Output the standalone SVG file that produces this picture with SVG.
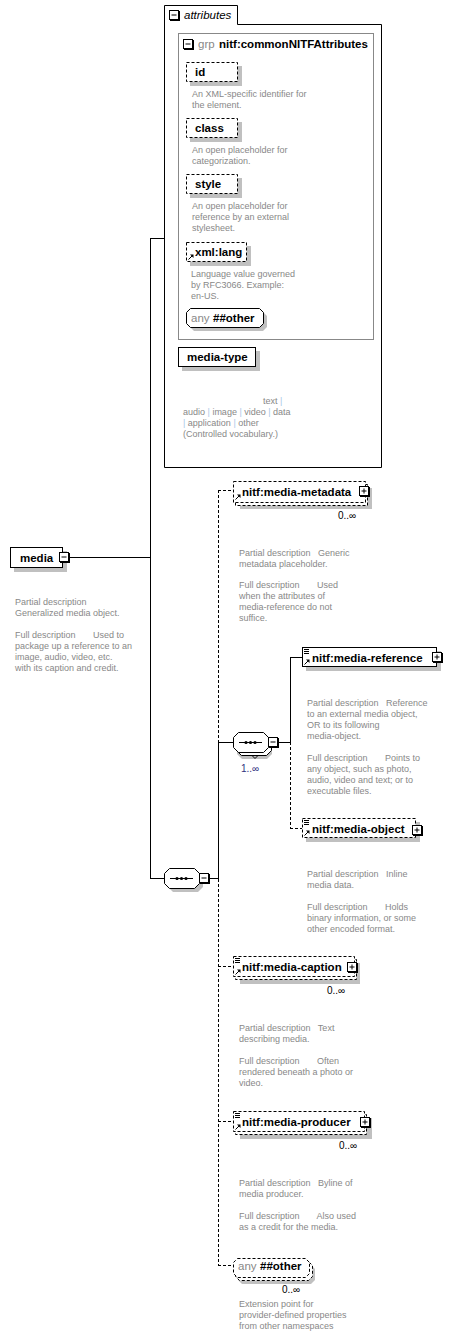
<svg xmlns="http://www.w3.org/2000/svg" width="451" height="1337" viewBox="0 0 451 1337">
<style>
text{font-family:"Liberation Sans",Arial,sans-serif}
.lbl{font-size:11.5px;font-weight:bold;fill:#000}
.desc{font-size:9px;fill:#888}
.occ{font-size:10px;fill:#000}
.box{fill:#fff;stroke:#000;stroke-width:1}
.dbox{fill:#fff;stroke:#000;stroke-width:1;stroke-dasharray:3,2}
.sh{fill:#c0c0c0;stroke:none}
.ln{fill:none;stroke:#000;stroke-width:1}
.dln{fill:none;stroke:#000;stroke-width:1;stroke-dasharray:3,2}
.ic{fill:#fff;stroke:#000;stroke-width:1}
</style>
<defs>
<g id="minus"><rect x="1" y="1" width="10" height="10" fill="#000"/><rect class="ic" x="0.5" y="0.5" width="9" height="9"/><path class="ln" d="M2.5,5 H7.5"/></g>
<g id="plus"><rect x="1" y="1" width="10" height="10" fill="#000"/><rect class="ic" x="0.5" y="0.5" width="9" height="9"/><path class="ln" d="M2.5,5 H7.5 M5,2.5 V7.5"/></g>
<g id="arr"><path class="ln" d="M0.5,5.5 L4.5,1.5"/><path d="M2,0.5 H5.5 V4 Z" fill="#000"/></g>
<g id="lines"><path class="ln" d="M0,0.5 H5 M0,2.5 H5 M0,4.5 H5"/></g>
</defs>

<g id="connectors">
<path class="ln" d="M69,557.5 H150.5 M150.5,238 V878 M150,238.5 H165 M150,878.5 H164"/>
<path class="ln" d="M209,878.5 H218.5 M218.5,742 V879 M218,742.5 H233"/>
<path class="dln" d="M218.5,490 V742 M218.5,879 V1265.5 M218,490.5 H233 M218,966.5 H233 M218,1121.5 H233 M218,1265.5 H233"/>
<path class="ln" d="M278,742.5 H290.5 M290.5,657 V742 M290,657.5 H302"/>
<path class="dln" d="M290.5,742 V828.5 M290,828.5 H302"/>
</g>

<g id="attributes">
<path class="box" d="M164.5,5.5 H237.5 V24.5 H381.5 V467.5 H164.5 Z"/>
<use href="#minus" x="169" y="10"/>
<text x="184" y="19" style="font-size:11.5px;font-style:italic">attributes</text>
</g>

<g id="grp">
<rect x="178.5" y="33.5" width="195" height="306" fill="none" stroke="#888"/>
<use href="#minus" x="183" y="39"/>
<text x="198" y="48" style="font-size:11.5px;fill:#888">grp</text>
<text class="lbl" x="219" y="48">nitf:commonNITFAttributes</text>
</g>

<g id="attr-id">
<rect class="sh" x="190" y="66" width="52" height="20"/>
<rect class="dbox" x="186.5" y="62.5" width="51" height="19"/>
<text class="lbl" x="195" y="76">id</text>
<text class="desc" x="192" y="97">An XML-specific identifier for</text>
<text class="desc" x="192" y="108">the element.</text>
</g>

<g id="attr-class">
<rect class="sh" x="190" y="122" width="52" height="20"/>
<rect class="dbox" x="186.5" y="118.5" width="51" height="19"/>
<text class="lbl" x="195" y="132">class</text>
<text class="desc" x="192" y="153">An open placeholder for</text>
<text class="desc" x="192" y="164">categorization.</text>
</g>

<g id="attr-style">
<rect class="sh" x="190" y="178" width="52" height="20"/>
<rect class="dbox" x="186.5" y="174.5" width="51" height="19"/>
<text class="lbl" x="195" y="188">style</text>
<text class="desc" x="192" y="209">An open placeholder for</text>
<text class="desc" x="192" y="220">reference by an external</text>
<text class="desc" x="192" y="231">stylesheet.</text>
</g>

<g id="attr-xmllang">
<rect class="sh" x="190" y="246" width="61" height="20"/>
<rect class="dbox" x="186.5" y="242.5" width="60" height="19"/>
<use href="#arr" x="188" y="254"/>
<text class="lbl" x="195" y="256">xml:lang</text>
<text class="desc" x="191" y="277">Language value governed</text>
<text class="desc" x="191" y="288">by RFC3066. Example:</text>
<text class="desc" x="191" y="299">en-US.</text>
</g>

<g id="attr-any">
<path class="sh" d="M194,312 H263 L267,316 V327 L263,331 H194 L190,327 V316 Z"/>
<path class="box" d="M190.5,308.5 H259.5 L263.5,312.5 V323.5 L259.5,327.5 H190.5 L186.5,323.5 V312.5 Z"/>
<text x="191" y="322" style="font-size:11.5px;fill:#888">any</text>
<text class="lbl" x="213" y="322">##other</text>
</g>

<g id="attr-media-type">
<rect class="sh" x="182" y="351" width="78" height="20"/>
<rect class="box" x="178.5" y="347.5" width="77" height="19"/>
<text class="lbl" x="187" y="361">media-type</text>
<text class="desc" x="263" y="404">text <tspan fill="#a8c8e8">|</tspan></text>
<text class="desc" x="183" y="415">audio <tspan fill="#a8c8e8">|</tspan> image <tspan fill="#a8c8e8">|</tspan> video <tspan fill="#a8c8e8">|</tspan> data</text>
<text class="desc" x="183" y="426"><tspan fill="#a8c8e8">|</tspan> application <tspan fill="#a8c8e8">|</tspan> other</text>
<text class="desc" x="183" y="437">(Controlled vocabulary.)</text>
</g>

<g id="media">
<rect class="sh" x="14" y="551" width="53" height="21"/>
<rect class="box" x="10.5" y="547.5" width="52" height="20"/>
<text class="lbl" x="20" y="562">media</text>
<use href="#minus" x="59" y="552"/>
<text class="desc" x="15" y="605">Partial description</text>
<text class="desc" x="15" y="616">Generalized media object.</text>
<text class="desc" x="15" y="638" xml:space="preserve">Full description       Used to</text>
<text class="desc" x="15" y="649">package up a reference to an</text>
<text class="desc" x="15" y="660">image, audio, video, etc.</text>
<text class="desc" x="15" y="671">with its caption and credit.</text>
</g>

<g id="seq-main">
<path class="sh" d="M173,872 H198 L203,877 V887 L198,892 H173 L168,887 V877 Z"/>
<path class="box" d="M169.5,868.5 H194.5 L199.5,873.5 V883.5 L194.5,888.5 H169.5 L164.5,883.5 V873.5 Z"/>
<path class="ln" d="M170,878.5 H193"/>
<circle cx="177" cy="878.5" r="1.6"/><circle cx="181.5" cy="878.5" r="1.6"/><circle cx="186" cy="878.5" r="1.6"/>
<use href="#minus" x="199" y="873"/>
</g>

<g id="seq-inner">
<path class="sh" d="M242,739 H267 L272,744 V754 L267,759 H242 L237,754 V744 Z"/>
<path class="box" d="M241.5,735.5 H266.5 L271.5,740.5 V750.5 L266.5,755.5 H241.5 L236.5,750.5 V740.5 Z"/>
<path class="box" d="M238.5,732.5 H263.5 L268.5,737.5 V747.5 L263.5,752.5 H238.5 L233.5,747.5 V737.5 Z"/>
<path class="ln" d="M252,755.5 L255,758.5 L258,755.5"/>
<path class="ln" d="M239,742.5 H262"/>
<circle cx="246" cy="742.5" r="1.6"/><circle cx="250.5" cy="742.5" r="1.6"/><circle cx="255" cy="742.5" r="1.6"/>
<use href="#minus" x="268" y="737"/>
<text x="241" y="772" style="font-size:10px;fill:#303080">1..∞</text>
</g>

<g id="media-metadata">
<rect class="sh" x="240" y="488" width="132" height="21"/>
<rect class="dbox" x="235.5" y="484.5" width="132" height="21"/>
<rect class="dbox" x="233.5" y="481.5" width="132" height="21"/>
<use href="#arr" x="235" y="494"/>
<text class="lbl" x="242" y="496">nitf:media-metadata</text>
<use href="#plus" x="359" y="486"/>
<text class="occ" x="338" y="519">0..∞</text>
<text class="desc" x="239" y="556" xml:space="preserve">Partial description   Generic</text>
<text class="desc" x="239" y="567">metadata placeholder.</text>
<text class="desc" x="239" y="588" xml:space="preserve">Full description       Used</text>
<text class="desc" x="239" y="599">when the attributes of</text>
<text class="desc" x="239" y="610">media-reference do not</text>
<text class="desc" x="239" y="621">suffice.</text>
</g>

<g id="media-reference">
<rect class="sh" x="306" y="651" width="135" height="20"/>
<rect class="box" x="302.5" y="647.5" width="134" height="19"/>
<use href="#lines" x="304" y="649"/>
<use href="#arr" x="304" y="659"/>
<text class="lbl" x="312" y="662">nitf:media-reference</text>
<use href="#plus" x="432" y="652"/>
<text class="desc" x="307" y="706" xml:space="preserve">Partial description   Reference</text>
<text class="desc" x="307" y="717">to an external media object,</text>
<text class="desc" x="307" y="728">OR to its following</text>
<text class="desc" x="307" y="739">media-object.</text>
<text class="desc" x="307" y="761" xml:space="preserve">Full description       Points to</text>
<text class="desc" x="307" y="772">any object, such as photo,</text>
<text class="desc" x="307" y="783">audio, video and text; or to</text>
<text class="desc" x="307" y="794">executable files.</text>
</g>

<g id="media-object">
<rect class="sh" x="306" y="822" width="114" height="20"/>
<rect class="dbox" x="302.5" y="818.5" width="113" height="19"/>
<use href="#lines" x="304" y="820"/>
<use href="#arr" x="304" y="830"/>
<text class="lbl" x="312" y="833">nitf:media-object</text>
<use href="#plus" x="412" y="825"/>
<text class="desc" x="307" y="877" xml:space="preserve">Partial description   Inline</text>
<text class="desc" x="307" y="888">media data.</text>
<text class="desc" x="307" y="910" xml:space="preserve">Full description       Holds</text>
<text class="desc" x="307" y="921">binary information, or some</text>
<text class="desc" x="307" y="932">other encoded format.</text>
</g>

<g id="media-caption">
<rect class="sh" x="240" y="963" width="120" height="21"/>
<rect class="dbox" x="235.5" y="959.5" width="121" height="20"/>
<rect class="dbox" x="233.5" y="956.5" width="121" height="20"/>
<use href="#lines" x="235" y="958"/>
<use href="#arr" x="235" y="969"/>
<text class="lbl" x="242" y="971">nitf:media-caption</text>
<use href="#plus" x="347" y="962"/>
<text class="occ" x="327" y="994">0..∞</text>
<text class="desc" x="239" y="1031" xml:space="preserve">Partial description   Text</text>
<text class="desc" x="239" y="1042">describing media.</text>
<text class="desc" x="239" y="1064" xml:space="preserve">Full description       Often</text>
<text class="desc" x="239" y="1075">rendered beneath a photo or</text>
<text class="desc" x="239" y="1086">video.</text>
</g>

<g id="media-producer">
<rect class="sh" x="240" y="1118" width="132" height="21"/>
<rect class="dbox" x="235.5" y="1114.5" width="131" height="20"/>
<rect class="dbox" x="233.5" y="1111.5" width="131" height="20"/>
<use href="#lines" x="235" y="1113"/>
<use href="#arr" x="235" y="1124"/>
<text class="lbl" x="242" y="1126">nitf:media-producer</text>
<use href="#plus" x="360" y="1117"/>
<text class="occ" x="339" y="1149">0..∞</text>
<text class="desc" x="239" y="1186" xml:space="preserve">Partial description   Byline of</text>
<text class="desc" x="239" y="1197">media producer.</text>
<text class="desc" x="239" y="1219" xml:space="preserve">Full description       Also used</text>
<text class="desc" x="239" y="1230">as a credit for the media.</text>
</g>

<g id="any-other">
<path class="sh" d="M242,1265 H311 L315,1269 V1280 L311,1284 H242 L238,1280 V1269 Z"/>
<path class="dbox" d="M239.5,1261.5 H308.5 L312.5,1265.5 V1276.5 L308.5,1280.5 H239.5 L235.5,1276.5 V1265.5 Z"/>
<path class="dbox" d="M237.5,1258.5 H305.5 L309.5,1262.5 V1273.5 L305.5,1277.5 H237.5 L233.5,1273.5 V1262.5 Z"/>
<text x="238" y="1270" style="font-size:11.5px;fill:#888">any</text>
<text class="lbl" x="260" y="1270">##other</text>
<text class="occ" x="282" y="1293">0..∞</text>
<text class="desc" x="239" y="1307">Extension point for</text>
<text class="desc" x="239" y="1318">provider-defined properties</text>
<text class="desc" x="239" y="1329">from other namespaces</text>
</g>
</svg>
